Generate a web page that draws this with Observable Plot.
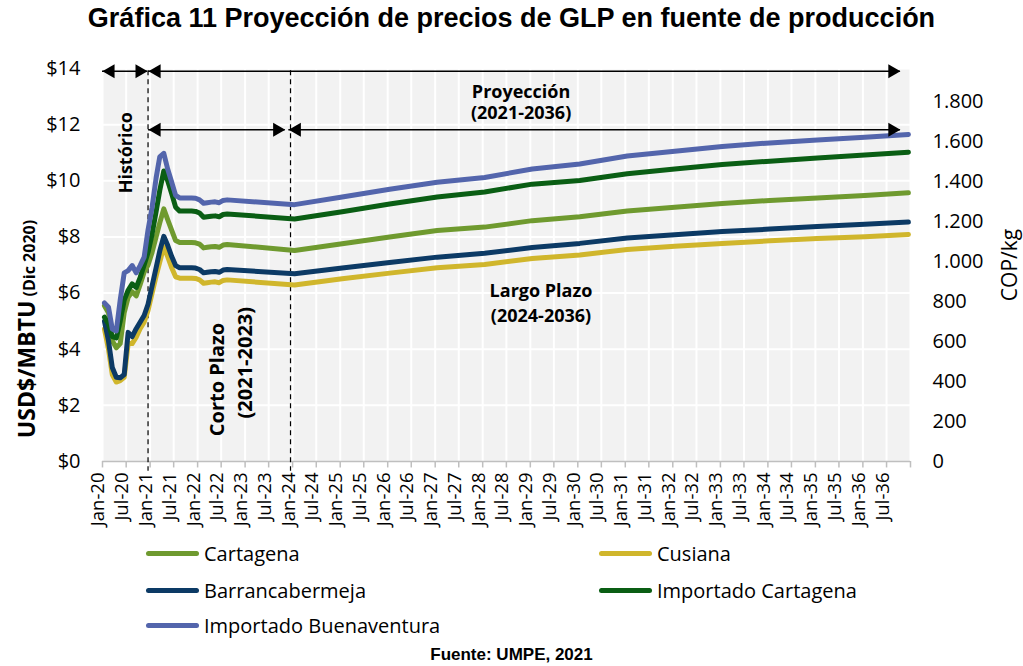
<!DOCTYPE html>
<html><head><meta charset="utf-8">
<script src="https://cdn.jsdelivr.net/npm/d3@7"></script>
<script src="https://cdn.jsdelivr.net/npm/@observablehq/plot@0.6"></script>
<style>
body{margin:0;background:#fff;}
#wrap{position:relative;width:1023px;height:666px;overflow:hidden;font-family:"Open Sans",sans-serif;color:#000;}
#title{position:absolute;left:0;top:2px;width:1023px;text-align:center;font:bold 27px "Liberation Sans",Arial,sans-serif;line-height:32px;}
#chart{position:absolute;left:0;top:40px;}
.leg{position:absolute;display:flex;align-items:center;font-size:20px;height:30px;white-space:nowrap;}
.sw{width:53px;height:5px;border-radius:3px;margin-right:5px;}
#caption{position:absolute;left:0;width:1023px;top:645px;text-align:center;font:bold 17px "Liberation Sans",Arial,sans-serif;line-height:20px;}
</style></head><body>
<div id="wrap">
  <div id="title">Gráfica 11 Proyección de precios de GLP en fuente de producción</div>
  <div id="chart"></div>
  <div id="legend"></div>
  <div id="caption">Fuente: UMPE, 2021</div>
</div>
<script>
// ---- data ----
const dates = [
  "2020-01","2020-02","2020-03","2020-04","2020-05","2020-06","2020-07","2020-08","2020-09","2020-10","2020-11","2020-12",
  "2021-01","2021-02","2021-03","2021-04","2021-05","2021-06","2021-07","2021-08","2021-09","2021-10","2021-11","2021-12",
  "2022-01","2022-02","2022-03","2022-04","2022-05","2022-06","2022-07","2022-08",
  "2024-01","2025-01","2026-01","2027-01","2028-01","2029-01","2030-01","2031-01","2032-01","2033-01","2034-01","2035-01","2036-01","2036-12"
];
const seriesNames = ["Cartagena","Cusiana","Barrancabermeja","Importado Cartagena","Importado Buenaventura"];
const seriesColors = ["#6f9a2f","#d0b62c","#0c3a65","#0a5e14","#5365ac"];

const cartagena = [5.55,5.30,4.30,4.05,4.20,5.30,5.85,6.05,5.90,6.30,6.75,7.00,
  7.45,8.00,8.50,9.00,8.62,8.23,7.87,7.80,7.80,7.80,7.80,7.79,
  7.74,7.61,7.63,7.65,7.66,7.63,7.71,7.73,
  7.52,7.76,8.00,8.23,8.35,8.58,8.72,8.92,9.06,9.19,9.30,9.39,9.48,9.57];
const cusiana = [4.72,4.00,3.10,2.83,2.88,3.00,4.20,4.20,4.43,4.73,4.96,5.38,
  6.00,6.60,7.10,7.65,7.30,6.90,6.58,6.53,6.53,6.53,6.53,6.52,
  6.47,6.35,6.37,6.39,6.40,6.37,6.45,6.47,
  6.29,6.51,6.71,6.90,7.02,7.23,7.36,7.55,7.67,7.77,7.86,7.94,8.01,8.09];
const barrancabermeja = [5.00,4.30,3.35,3.00,2.98,3.10,4.60,4.45,4.73,4.96,5.20,5.60,
  6.25,6.90,7.50,8.02,7.70,7.30,6.98,6.90,6.90,6.90,6.90,6.89,
  6.84,6.72,6.74,6.76,6.77,6.74,6.82,6.84,
  6.69,6.89,7.09,7.28,7.42,7.62,7.77,7.96,8.08,8.19,8.28,8.37,8.45,8.53];
const importadoCartagena = [5.14,4.90,4.45,4.40,5.00,5.75,6.10,6.33,6.20,6.55,7.00,7.45,
  8.10,8.90,9.65,10.35,10.00,9.54,9.06,8.92,8.92,8.92,8.92,8.91,
  8.85,8.70,8.72,8.74,8.75,8.72,8.80,8.82,
  8.64,8.90,9.17,9.42,9.60,9.88,10.01,10.25,10.42,10.58,10.70,10.81,10.92,11.02];
const importadoBuenaventura = [5.65,5.50,4.72,4.65,5.75,6.72,6.80,6.98,6.72,6.98,7.28,8.25,
  9.05,10.10,10.85,10.98,10.42,9.95,9.48,9.39,9.39,9.39,9.39,9.38,
  9.32,9.20,9.22,9.24,9.25,9.22,9.30,9.32,
  9.15,9.42,9.70,9.95,10.12,10.42,10.60,10.88,11.05,11.22,11.35,11.45,11.55,11.65];

const yTicks = [0,2,4,6,8,10,12,14];
const copTicks = [0,200,400,600,800,1000,1200,1400,1600,1800];
const copPerUsd = 140.5;
const xTickLabels = ["Jan-20","Jul-20","Jan-21","Jul-21","Jan-22","Jul-22","Jan-23","Jul-23","Jan-24","Jul-24",
  "Jan-25","Jul-25","Jan-26","Jul-26","Jan-27","Jul-27","Jan-28","Jul-28","Jan-29","Jul-29","Jan-30","Jul-30",
  "Jan-31","Jul-31","Jan-32","Jul-32","Jan-33","Jul-33","Jan-34","Jul-34","Jan-35","Jul-35","Jan-36","Jul-36"];

const periodArrows = [
  {start:"2020-01-01", end:"2020-12-12", y:13.9},
  {start:"2020-12-20", end:"2036-10-15", y:13.9},
  {start:"2020-12-20", end:"2023-11-05", y:11.82},
  {start:"2023-12-03", end:"2036-10-15", y:11.82}
];
const periodDividers = ["2020-12-16","2023-12-16"];
const annotations = [
  {text:"Histórico", date:"2020-07-01", y:11.0, rotate:-90},
  {text:"Corto Plazo", date:"2022-06-07", y:2.92, rotate:-90},
  {text:"(2021-2023)", date:"2023-01-01", y:3.52, rotate:-90},
  {text:"Proyección", date:"2028-10-22", y:13.15, rotate:0},
  {text:"(2021-2036)", date:"2028-10-22", y:12.40, rotate:0},
  {text:"Largo Plazo", date:"2029-03-24", y:6.06, rotate:0},
  {text:"(2024-2036)", date:"2029-03-24", y:5.17, rotate:0}
];

// ---- build ----
const seriesValues = [cartagena, cusiana, barrancabermeja, importadoCartagena, importadoBuenaventura];
const midMonth = s => { const [y,m] = s.split("-").map(Number); return new Date(Date.UTC(y, m-1, 16)); };
const day = s => new Date(s + "T00:00:00Z");
const rows = [];
seriesNames.forEach((name, k) => dates.forEach((d, i) => rows.push({date: midMonth(d), value: seriesValues[k][i], series: name})));

const x0 = new Date(Date.UTC(2020,0,1)), x1 = new Date(Date.UTC(2037,0,1));
const halfYears = d3.utcMonth.every(6).range(x0, new Date(Date.UTC(2037,0,2)));
const labelDates = halfYears.slice(0, xTickLabels.length).map(d => new Date(Date.UTC(d.getUTCFullYear(), d.getUTCMonth(), 16)));
const arrows = periodArrows.map(a => ({start: day(a.start), end: day(a.end), y: a.y}));
const dividers = periodDividers.map(day);
const notes = annotations.map(a => ({...a, date: day(a.date)}));
const shortTerm = notes.filter(n => n.text === "Corto Plazo" || n.text === "(2021-2023)");
const otherNotes = notes.filter(n => !shortTerm.includes(n));
const esFmt = d3.formatLocale({decimal:",", thousands:".", grouping:[3], currency:["$",""]}).format(",");

const chart = Plot.plot({
  width: 1023, height: 500,
  marginTop: 28, marginBottom: 79, marginLeft: 102, marginRight: 113,
  x: {type: "utc", domain: [x0, x1], axis: null},
  y: {domain: [0, 14]},
  color: {domain: seriesNames, range: seriesColors},
  style: {fontFamily: "'Open Sans', sans-serif", fontSize: "20px", color: "#000", background: "transparent", overflow: "visible"},
  marks: [
    Plot.frame({fill: "#f2f2f2", stroke: null}),
    Plot.ruleY(yTicks.filter(v => v > 0), {stroke: "#fff", strokeWidth: 2}),
    Plot.ruleX(halfYears, {stroke: "#fff", strokeWidth: 2}),
    Plot.ruleY([0], {stroke: "#bfbfbf", strokeWidth: 1.5}),
    Plot.ruleX(halfYears, {y1: 0, y2: -0.23, stroke: "#bfbfbf", strokeWidth: 1.5}),
    Plot.axisY({anchor: "left", ticks: yTicks, tickSize: 0, tickPadding: 22, tickFormat: d => "$" + d, fontSize: 20, label: null}),
    Plot.axisY({anchor: "right", ticks: copTicks.map(v => v / copPerUsd), tickSize: 0, tickPadding: 22,
      tickFormat: d => esFmt(Math.round(d * copPerUsd)), fontSize: 20, label: null}),
    Plot.text(xTickLabels, {x: (d, i) => labelDates[i], frameAnchor: "bottom", text: d => d, rotate: -90,
      textAnchor: "end", dy: 11, fontSize: 18.5}),
    Plot.ruleX(dividers, {y1: 13.92, y2: -0.35, stroke: "#000", strokeWidth: 1.2, strokeDasharray: "5,4"}),
    Plot.line(rows, {x: "date", y: "value", z: "series", stroke: "series", strokeWidth: 5,
      strokeLinecap: "round", strokeLinejoin: "round"}),
    Plot.ruleY(arrows, {x1: "start", x2: "end", y: "y", stroke: "#000", strokeWidth: 1.5}),
    Plot.dot(arrows, {x: "start", y: "y", symbol: "triangle", rotate: -90, r: 5.2, fill: "#000", stroke: null, dx: 8}),
    Plot.dot(arrows, {x: "end", y: "y", symbol: "triangle", rotate: 90, r: 5.2, fill: "#000", stroke: null, dx: -8}),
    Plot.text(otherNotes, {x: "date", y: "y", text: "text", rotate: "rotate", fontSize: 18, fontWeight: "bold", fill: "#000"}),
    Plot.text(shortTerm, {x: "date", y: "y", text: "text", rotate: "rotate", fontSize: 20, fontWeight: "bold", fill: "#000"})
  ]
});
document.getElementById("chart").appendChild(chart);

const svg = d3.select(chart);
const yl = svg.append("text").attr("transform", "translate(35,289) rotate(-90)")
  .attr("text-anchor", "middle").attr("font-weight", "bold").attr("fill", "#000");
yl.append("tspan").attr("font-size", 23).text("USD$/MBTU");
yl.append("tspan").attr("font-size", 16).text(" (Dic 2020)");
svg.append("text").attr("transform", "translate(1017,225) rotate(-90)")
  .attr("text-anchor", "middle").attr("font-size", 21).attr("fill", "#000").text("COP/kg");

// legend
const legendPos = [[146,538],[599,538],[146,575],[599,575],[146,610]];
const legend = document.getElementById("legend");
seriesNames.forEach((name, i) => {
  const item = document.createElement("div");
  item.className = "leg";
  item.style.left = legendPos[i][0] + "px";
  item.style.top = legendPos[i][1] + "px";
  const sw = document.createElement("div");
  sw.className = "sw";
  sw.style.background = seriesColors[i];
  const t = document.createElement("span");
  t.textContent = name;
  item.appendChild(sw); item.appendChild(t);
  legend.appendChild(item);
});
</script>
</body></html>
